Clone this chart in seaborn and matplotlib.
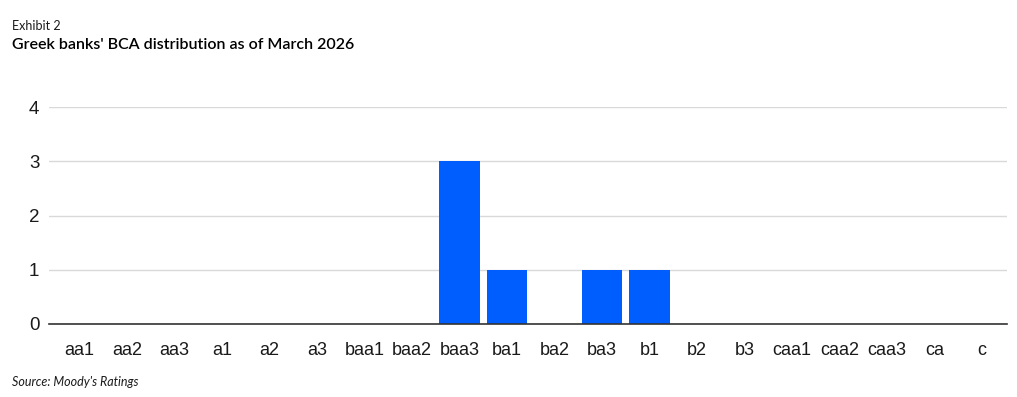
import matplotlib
matplotlib.use("Agg")
import matplotlib.pyplot as plt
import seaborn as sns
import pandas as pd

categories = ["aa1", "aa2", "aa3", "a1", "a2", "a3", "baa1", "baa2", "baa3", "ba1",
              "ba2", "ba3", "b1", "b2", "b3", "caa1", "caa2", "caa3", "ca", "c"]
counts = [0, 0, 0, 0, 0, 0, 0, 0, 3, 1, 0, 1, 1, 0, 0, 0, 0, 0, 0, 0]
y_ticks = [0, 1, 2, 3, 4]

sns.set_theme(style="white")
plt.rcParams['font.family'] = ['Liberation Sans', 'DejaVu Sans']

df = pd.DataFrame({"rating": categories, "count": counts})

fig = plt.figure(figsize=(10.17, 3.97), dpi=100)
ax = fig.add_axes([49/1017, 1-324/397, (1007-49)/1017, (324-107)/397])

sns.barplot(data=df, x="rating", y="count", order=categories, color="#005EFF",
            width=0.86, saturation=1, linewidth=0, edgecolor="none", ax=ax, zorder=3)

ax.set_xlim(-0.642, 19.526)
ax.set_ylim(0, 4)
ax.set_yticks(y_ticks)
ax.set_yticklabels([str(v) for v in y_ticks], fontsize=13.5, color="#1a1a1a")
ax.tick_params(axis="x", labelsize=13, colors="#1a1a1a", length=0, pad=13)
ax.tick_params(axis="y", length=0, pad=7)
ax.grid(axis="y", color="#d9d9d9", linewidth=1, zorder=0)
for s in ["top", "right", "left"]:
    ax.spines[s].set_visible(False)
ax.spines["bottom"].set_color("#333333")
ax.spines["bottom"].set_linewidth(1.2)
ax.spines["bottom"].set_zorder(4)
ax.set_xlabel("")
ax.set_ylabel("")

fig.text(12/1017, 1-26/397, "Exhibit 2", fontsize=9, family=["Lato", "DejaVu Sans"],
         color="#1a1a1a", va="center", ha="left")
fig.text(12/1017, 1-45/397, "Greek banks' BCA distribution as of March 2026", fontsize=11.5,
         family=["Lato", "DejaVu Sans"], color="#000000", va="center", ha="left", weight="semibold")
fig.text(12/1017, 1-382/397, "Source: Moody's Ratings", fontsize=9, style="italic",
         family=["Lato", "DejaVu Sans"], color="#1a1a1a", va="center", ha="left")

fig.savefig("out.png", dpi=100)
